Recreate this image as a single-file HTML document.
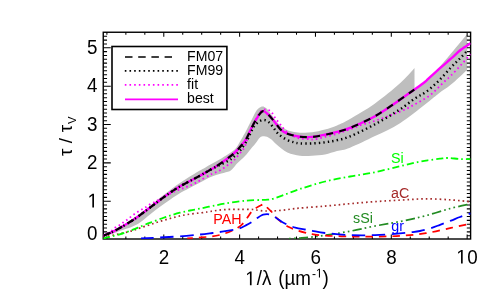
<!DOCTYPE html>
<html><head><meta charset="utf-8"><title>chart</title><style>html,body{margin:0;padding:0;background:#fff}body{width:501px;height:305px;position:relative;overflow:hidden;font-family:"Liberation Sans",sans-serif}</style></head><body>
<svg width="501" height="305" viewBox="0 0 501 305" style="position:absolute;left:0;top:0;will-change:transform">
<defs><clipPath id="c"><rect x="103.25" y="32.25" width="367.35" height="206.75"/></clipPath><clipPath id="cb"><rect x="103.25" y="32.25" width="363.89" height="206.75"/></clipPath></defs>
<path d="M103.25 235.00 C106.21 233.55 115.08 229.70 121.00 226.30 C126.92 222.90 133.97 218.02 138.80 214.60 C143.63 211.18 146.47 208.60 150.00 205.80 C153.53 203.00 156.58 200.48 160.00 197.80 C163.42 195.12 167.00 192.28 170.50 189.70 C174.00 187.12 177.50 184.65 181.00 182.30 C184.50 179.95 188.35 177.57 191.50 175.60 C194.65 173.63 197.57 171.87 199.90 170.50 C202.23 169.13 202.82 168.88 205.50 167.40 C208.18 165.92 212.50 163.62 216.00 161.60 C219.50 159.58 223.33 157.37 226.50 155.30 C229.67 153.23 232.82 151.37 235.00 149.20 C237.18 147.03 238.27 144.42 239.60 142.30 C240.93 140.18 241.93 138.37 243.00 136.50 C244.07 134.63 244.70 133.58 246.00 131.10 C247.30 128.62 249.20 124.78 250.80 121.60 C252.40 118.42 254.23 114.27 255.60 112.00 C256.97 109.73 257.82 108.93 259.00 108.00 C260.18 107.07 261.53 106.40 262.70 106.40 C263.87 106.40 264.78 106.93 266.00 108.00 C267.22 109.07 268.00 110.27 270.00 112.80 C272.00 115.33 275.33 120.42 278.00 123.20 C280.67 125.98 283.33 128.05 286.00 129.50 C288.67 130.95 291.33 131.37 294.00 131.90 C296.67 132.43 299.00 132.63 302.00 132.70 C305.00 132.77 308.17 132.83 312.00 132.30 C315.83 131.77 320.83 130.65 325.00 129.50 C329.17 128.35 332.83 127.15 337.00 125.40 C341.17 123.65 343.67 122.65 350.00 119.00 C356.33 115.35 366.67 109.45 375.00 103.50 C383.33 97.55 393.42 89.22 400.00 83.30 C406.58 77.38 412.08 70.55 414.50 68.00 L414.50 89.40 C416.82 87.62 423.58 83.18 428.40 78.70 C433.22 74.22 439.63 66.70 443.40 62.50 C447.17 58.30 448.10 56.97 451.00 53.50 C453.90 50.03 458.12 44.92 460.80 41.70 C463.48 38.48 465.47 36.15 467.10 34.20 C468.73 32.25 470.02 30.70 470.60 30.00 L470.60 66.00 C470.00 66.65 470.27 66.80 467.00 69.90 C463.73 73.00 455.77 80.63 451.00 84.60 C446.23 88.57 442.73 90.38 438.40 93.70 C434.07 97.02 431.40 99.58 425.00 104.50 C418.60 109.42 408.33 117.93 400.00 123.20 C391.67 128.47 383.33 132.02 375.00 136.10 C366.67 140.18 356.33 145.20 350.00 147.70 C343.67 150.20 341.17 149.97 337.00 151.10 C332.83 152.23 329.17 153.72 325.00 154.50 C320.83 155.28 316.17 155.58 312.00 155.80 C307.83 156.02 304.10 156.33 300.00 155.80 C295.90 155.27 291.35 154.52 287.40 152.60 C283.45 150.68 278.95 146.47 276.30 144.30 C273.65 142.13 273.05 140.85 271.50 139.60 C269.95 138.35 268.33 137.37 267.00 136.80 C265.67 136.23 264.67 136.08 263.50 136.20 C262.33 136.32 261.32 136.32 260.00 137.50 C258.68 138.68 257.27 141.22 255.60 143.30 C253.93 145.38 251.77 147.88 250.00 150.00 C248.23 152.12 247.17 153.75 245.00 156.00 C242.83 158.25 238.67 161.83 237.00 163.50 C235.33 165.17 235.70 165.15 235.00 166.00 C234.30 166.85 233.70 167.73 232.80 168.60 C231.90 169.47 231.53 170.38 229.60 171.20 C227.67 172.02 224.35 172.53 221.20 173.50 C218.05 174.47 214.23 175.50 210.70 177.00 C207.17 178.50 203.20 180.85 200.00 182.50 C196.80 184.15 194.67 185.23 191.50 186.90 C188.33 188.57 184.58 190.37 181.00 192.50 C177.42 194.63 173.50 197.32 170.00 199.70 C166.50 202.08 163.33 204.33 160.00 206.80 C156.67 209.27 153.33 211.88 150.00 214.50 C146.67 217.12 143.08 220.42 140.00 222.50 C136.92 224.58 134.67 225.67 131.50 227.00 C128.33 228.33 124.15 229.37 121.00 230.50 C117.85 231.63 115.56 232.75 112.60 233.80 C109.64 234.85 104.81 236.30 103.25 236.80 Z" fill="#bebebe" stroke="none" clip-path="url(#cb)"/>
<g stroke="#000" stroke-width="1.4" fill="none">
<rect x="103.25" y="32.25" width="367.35" height="206.75"/>
<path d="M106.90 239.00v-2.40M106.90 32.25v2.40M125.86 239.00v-2.40M125.86 32.25v2.40M144.82 239.00v-2.40M144.82 32.25v2.40M163.78 239.00v-4.40M163.78 32.25v4.40M182.74 239.00v-2.40M182.74 32.25v2.40M201.70 239.00v-2.40M201.70 32.25v2.40M220.66 239.00v-2.40M220.66 32.25v2.40M239.62 239.00v-4.40M239.62 32.25v4.40M258.58 239.00v-2.40M258.58 32.25v2.40M277.54 239.00v-2.40M277.54 32.25v2.40M296.50 239.00v-2.40M296.50 32.25v2.40M315.46 239.00v-4.40M315.46 32.25v4.40M334.42 239.00v-2.40M334.42 32.25v2.40M353.38 239.00v-2.40M353.38 32.25v2.40M372.34 239.00v-2.40M372.34 32.25v2.40M391.30 239.00v-4.40M391.30 32.25v4.40M410.26 239.00v-2.40M410.26 32.25v2.40M429.22 239.00v-2.40M429.22 32.25v2.40M448.18 239.00v-2.40M448.18 32.25v2.40M467.14 239.00v-4.40M467.14 32.25v4.40M103.25 235.72h3.80M470.60 235.72h-3.80M103.25 231.88h3.80M470.60 231.88h-3.80M103.25 228.05h3.80M470.60 228.05h-3.80M103.25 224.21h3.80M470.60 224.21h-3.80M103.25 220.38h3.80M470.60 220.38h-3.80M103.25 216.54h3.80M470.60 216.54h-3.80M103.25 212.71h3.80M470.60 212.71h-3.80M103.25 208.87h3.80M470.60 208.87h-3.80M103.25 205.04h3.80M470.60 205.04h-3.80M103.25 201.20h7.50M470.60 201.20h-3.80M103.25 197.37h3.80M470.60 197.37h-3.80M103.25 193.53h3.80M470.60 193.53h-3.80M103.25 189.69h3.80M470.60 189.69h-3.80M103.25 185.86h3.80M470.60 185.86h-3.80M103.25 182.03h3.80M470.60 182.03h-3.80M103.25 178.19h3.80M470.60 178.19h-3.80M103.25 174.36h3.80M470.60 174.36h-3.80M103.25 170.52h3.80M470.60 170.52h-3.80M103.25 166.69h3.80M470.60 166.69h-3.80M103.25 162.85h7.50M470.60 162.85h-3.80M103.25 159.01h3.80M470.60 159.01h-3.80M103.25 155.18h3.80M470.60 155.18h-3.80M103.25 151.35h3.80M470.60 151.35h-3.80M103.25 147.51h3.80M470.60 147.51h-3.80M103.25 143.68h3.80M470.60 143.68h-3.80M103.25 139.84h3.80M470.60 139.84h-3.80M103.25 136.00h3.80M470.60 136.00h-3.80M103.25 132.17h3.80M470.60 132.17h-3.80M103.25 128.34h3.80M470.60 128.34h-3.80M103.25 124.50h7.50M470.60 124.50h-3.80M103.25 120.67h3.80M470.60 120.67h-3.80M103.25 116.83h3.80M470.60 116.83h-3.80M103.25 113.00h3.80M470.60 113.00h-3.80M103.25 109.16h3.80M470.60 109.16h-3.80M103.25 105.33h3.80M470.60 105.33h-3.80M103.25 101.49h3.80M470.60 101.49h-3.80M103.25 97.66h3.80M470.60 97.66h-3.80M103.25 93.82h3.80M470.60 93.82h-3.80M103.25 89.99h3.80M470.60 89.99h-3.80M103.25 86.15h7.50M470.60 86.15h-3.80M103.25 82.32h3.80M470.60 82.32h-3.80M103.25 78.48h3.80M470.60 78.48h-3.80M103.25 74.65h3.80M470.60 74.65h-3.80M103.25 70.81h3.80M470.60 70.81h-3.80M103.25 66.97h3.80M470.60 66.97h-3.80M103.25 63.14h3.80M470.60 63.14h-3.80M103.25 59.31h3.80M470.60 59.31h-3.80M103.25 55.47h3.80M470.60 55.47h-3.80M103.25 51.63h3.80M470.60 51.63h-3.80M103.25 47.80h7.50M470.60 47.80h-3.80M103.25 43.97h3.80M470.60 43.97h-3.80M103.25 40.13h3.80M470.60 40.13h-3.80M103.25 36.30h3.80M470.60 36.30h-3.80" stroke-width="1.05"/>
</g>
<g clip-path="url(#c)" fill="none" stroke-linecap="butt" stroke-linejoin="round">
<path d="M103.25 237.00 C105.21 236.63 111.38 235.53 115.00 234.80 C118.62 234.07 122.00 233.32 125.00 232.60 C128.00 231.88 130.50 231.27 133.00 230.50 C135.50 229.73 137.17 228.97 140.00 228.00 C142.83 227.03 146.67 225.80 150.00 224.70 C153.33 223.60 156.67 222.43 160.00 221.40 C163.33 220.37 166.67 219.42 170.00 218.50 C173.33 217.58 176.67 216.63 180.00 215.90 C183.33 215.17 186.67 214.60 190.00 214.10 C193.33 213.60 197.08 213.25 200.00 212.90 C202.92 212.55 205.50 212.28 207.50 212.00 C209.50 211.72 210.50 211.45 212.00 211.20 C213.50 210.95 215.00 210.72 216.50 210.50 C218.00 210.28 219.50 210.05 221.00 209.90 C222.50 209.75 223.93 209.68 225.50 209.60 C227.07 209.52 227.98 209.45 230.40 209.40 C232.82 209.35 236.15 209.28 240.00 209.30 C243.85 209.32 250.50 209.33 253.50 209.50 C256.50 209.67 256.42 210.07 258.00 210.30 C259.58 210.53 261.42 210.78 263.00 210.90 C264.58 211.02 266.00 211.00 267.50 211.00 C269.00 211.00 270.50 210.95 272.00 210.90 C273.50 210.85 274.93 210.80 276.50 210.70 C278.07 210.60 279.82 210.45 281.40 210.30 C282.98 210.15 284.50 209.98 286.00 209.80 C287.50 209.62 288.90 209.40 290.40 209.20 C291.90 209.00 293.50 208.78 295.00 208.60 C296.50 208.42 294.40 208.52 299.40 208.10 C304.40 207.68 316.57 206.83 325.00 206.10 C333.43 205.37 341.67 204.45 350.00 203.70 C358.33 202.95 366.50 202.20 375.00 201.60 C383.50 201.00 392.50 200.57 401.00 200.10 C409.50 199.63 417.67 198.83 426.00 198.80 C434.33 198.77 443.57 199.40 451.00 199.90 C458.43 200.40 467.33 201.48 470.60 201.80" stroke="#a52a2a" stroke-width="1.7" stroke-dasharray="1.6 3.0"/>
<path d="M103.25 238.50 C103.76 238.37 103.69 238.35 106.30 237.70 C108.91 237.05 115.62 235.50 118.90 234.60 C122.18 233.70 123.55 233.17 126.00 232.30 C128.45 231.43 131.47 230.23 133.60 229.40 C135.73 228.57 136.90 228.08 138.80 227.30 C140.70 226.52 142.97 225.52 145.00 224.70 C147.03 223.88 148.25 223.43 151.00 222.40 C153.75 221.37 158.33 219.63 161.50 218.50 C164.67 217.37 166.92 216.57 170.00 215.60 C173.08 214.63 176.67 213.55 180.00 212.70 C183.33 211.85 186.67 211.18 190.00 210.50 C193.33 209.82 196.28 209.35 200.00 208.60 C203.72 207.85 208.13 206.83 212.30 206.00 C216.47 205.17 220.38 204.38 225.00 203.60 C229.62 202.82 235.83 201.83 240.00 201.30 C244.17 200.77 246.33 200.63 250.00 200.40 C253.67 200.17 259.00 200.02 262.00 199.90 C265.00 199.78 266.25 199.87 268.00 199.70 C269.75 199.53 270.50 199.45 272.50 198.90 C274.50 198.35 275.42 198.05 280.00 196.40 C284.58 194.75 292.50 191.48 300.00 189.00 C307.50 186.52 316.67 183.58 325.00 181.50 C333.33 179.42 341.67 178.05 350.00 176.50 C358.33 174.95 366.67 173.92 375.00 172.20 C383.33 170.48 392.50 167.97 400.00 166.20 C407.50 164.43 415.00 162.63 420.00 161.60 C425.00 160.57 426.67 160.48 430.00 160.00 C433.33 159.52 437.00 159.03 440.00 158.70 C443.00 158.37 444.67 157.95 448.00 158.00 C451.33 158.05 456.23 158.80 460.00 159.00 C463.77 159.20 468.83 159.17 470.60 159.20" stroke="#00ff00" stroke-width="1.8" stroke-dasharray="7.2 3.07 1.6 3.08" stroke-dashoffset="0.32"/>
<path d="M287.50 238.70 C289.58 238.58 296.25 238.25 300.00 238.00 C303.75 237.75 305.83 237.65 310.00 237.20 C314.17 236.75 318.33 236.30 325.00 235.30 C331.67 234.30 341.67 232.75 350.00 231.20 C358.33 229.65 366.50 227.65 375.00 226.00 C383.50 224.35 392.50 223.03 401.00 221.30 C409.50 219.57 417.67 217.77 426.00 215.60 C434.33 213.43 443.57 210.25 451.00 208.30 C458.43 206.35 467.33 204.63 470.60 203.90" stroke="#228b22" stroke-width="1.7" stroke-dasharray="9.4 3.0 1.7 3.2 1.7 3.2 1.7 3.2" stroke-dashoffset="15.70"/>
<path d="M187.30 238.40 C191.47 238.07 206.02 237.23 212.30 236.40 C218.58 235.57 221.68 234.35 225.00 233.40 C228.32 232.45 230.07 231.65 232.20 230.70 C234.33 229.75 236.07 228.85 237.80 227.70 C239.53 226.55 241.00 225.48 242.60 223.80 C244.20 222.12 245.93 219.57 247.40 217.60 C248.87 215.63 249.93 213.62 251.40 212.00 C252.87 210.38 254.60 209.03 256.20 207.90 C257.80 206.77 259.65 205.78 261.00 205.20 C262.35 204.62 263.25 204.00 264.30 204.40 C265.35 204.80 266.02 206.30 267.30 207.60 C268.58 208.90 270.53 210.57 272.00 212.20 C273.47 213.83 274.35 215.60 276.10 217.40 C277.85 219.20 280.37 221.40 282.50 223.00 C284.63 224.60 286.77 225.87 288.90 227.00 C291.03 228.13 292.63 228.87 295.30 229.80 C297.97 230.73 302.12 231.88 304.90 232.60 C307.68 233.32 308.65 233.60 312.00 234.10 C315.35 234.60 318.67 235.20 325.00 235.60 C331.33 236.00 341.67 236.33 350.00 236.50 C358.33 236.67 366.50 236.72 375.00 236.60 C383.50 236.48 392.50 236.37 401.00 235.80 C409.50 235.23 417.67 234.52 426.00 233.20 C434.33 231.88 443.57 229.50 451.00 227.90 C458.43 226.30 467.33 224.32 470.60 223.60" stroke="#ff0000" stroke-width="1.7" stroke-dasharray="7.5 5.95" stroke-dashoffset="1.86"/>
<path d="M141.00 238.40 C144.17 238.25 153.50 237.85 160.00 237.50 C166.50 237.15 173.33 236.80 180.00 236.30 C186.67 235.80 194.62 235.05 200.00 234.50 C205.38 233.95 208.63 233.47 212.30 233.00 C215.97 232.53 218.38 232.23 222.00 231.70 C225.62 231.17 231.10 230.33 234.00 229.80 C236.90 229.27 237.43 229.23 239.40 228.50 C241.37 227.77 243.80 226.45 245.80 225.40 C247.80 224.35 249.53 223.40 251.40 222.20 C253.27 221.00 255.28 219.37 257.00 218.20 C258.72 217.03 260.38 215.85 261.70 215.20 C263.02 214.55 263.70 214.45 264.90 214.30 C266.10 214.15 267.57 214.05 268.90 214.30 C270.23 214.55 271.43 215.02 272.90 215.80 C274.37 216.58 276.10 217.93 277.70 219.00 C279.30 220.07 280.63 221.13 282.50 222.20 C284.37 223.27 286.77 224.50 288.90 225.40 C291.03 226.30 292.63 226.92 295.30 227.60 C297.97 228.28 302.07 228.97 304.90 229.50 C307.73 230.03 308.95 230.22 312.30 230.80 C315.65 231.38 318.72 232.28 325.00 233.00 C331.28 233.72 341.67 234.75 350.00 235.10 C358.33 235.45 366.67 235.38 375.00 235.10 C383.33 234.82 393.83 233.88 400.00 233.40 C406.17 232.92 408.67 232.60 412.00 232.20 C415.33 231.80 417.00 231.63 420.00 231.00 C423.00 230.37 426.67 229.43 430.00 228.40 C433.33 227.37 436.50 226.10 440.00 224.80 C443.50 223.50 447.67 221.90 451.00 220.60 C454.33 219.30 456.73 218.20 460.00 217.00 C463.27 215.80 468.83 214.00 470.60 213.40" stroke="#0000ff" stroke-width="1.8" stroke-dasharray="13.4 6.6" stroke-dashoffset="0.8"/>
<path d="M103.25 235.60 C104.04 235.20 106.54 234.05 108.00 233.20 C109.46 232.35 110.72 231.48 112.00 230.50 C113.28 229.52 114.47 228.18 115.70 227.30 C116.93 226.42 118.17 225.98 119.40 225.20 C120.63 224.42 121.87 223.47 123.10 222.60 C124.33 221.73 125.58 220.92 126.80 220.00 C128.02 219.08 129.17 218.07 130.40 217.10 C131.63 216.13 132.95 215.10 134.20 214.20 C135.45 213.30 136.58 212.52 137.90 211.70 C139.22 210.88 140.80 210.05 142.10 209.30 C143.40 208.55 144.40 208.02 145.70 207.20 C147.00 206.38 148.50 205.22 149.90 204.40 C151.30 203.58 152.78 202.98 154.10 202.30 C155.42 201.62 155.78 201.43 157.80 200.30 C159.82 199.17 163.38 196.97 166.20 195.50 C169.02 194.03 172.50 192.48 174.70 191.50 C176.90 190.52 177.92 190.17 179.40 189.60 C180.88 189.03 182.20 188.63 183.60 188.10 C185.00 187.57 186.40 186.97 187.80 186.40 C189.20 185.83 190.60 185.33 192.00 184.70 C193.40 184.07 194.88 183.30 196.20 182.60 C197.52 181.90 197.73 181.70 199.90 180.50 C202.07 179.30 207.05 176.57 209.20 175.40 C211.35 174.23 211.50 174.10 212.80 173.50 C214.10 172.90 215.63 172.43 217.00 171.80 C218.37 171.17 219.68 170.47 221.00 169.70 C222.32 168.93 223.63 168.08 224.90 167.20 C226.17 166.32 227.37 165.30 228.60 164.40 C229.83 163.50 231.15 162.77 232.30 161.80 C233.45 160.83 234.17 160.10 235.50 158.60 C236.83 157.10 238.72 154.90 240.30 152.80 C241.88 150.70 243.38 149.63 245.00 146.00 C246.62 142.37 248.17 135.53 250.00 131.00 C251.83 126.47 254.17 122.13 256.00 118.80 C257.83 115.47 259.33 112.57 261.00 111.00 C262.67 109.43 264.38 109.37 266.00 109.40 C267.62 109.43 269.52 110.37 270.70 111.20 C271.88 112.03 272.30 113.20 273.10 114.40 C273.90 115.60 274.57 117.07 275.50 118.40 C276.43 119.73 277.63 121.07 278.70 122.40 C279.77 123.73 280.83 125.08 281.90 126.40 C282.97 127.72 283.77 128.98 285.10 130.30 C286.43 131.62 288.17 133.15 289.90 134.30 C291.63 135.45 293.77 136.50 295.50 137.20 C297.23 137.90 297.95 138.17 300.30 138.50 C302.65 138.83 307.25 139.03 309.60 139.20 C311.95 139.37 312.00 139.85 314.40 139.50 C316.80 139.15 320.23 138.05 324.00 137.10 C327.77 136.15 332.67 135.10 337.00 133.80 C341.33 132.50 345.77 130.83 350.00 129.30 C354.23 127.77 358.73 125.85 362.40 124.60 C366.07 123.35 368.87 122.78 372.00 121.80 C375.13 120.82 378.23 119.73 381.20 118.70 C384.17 117.67 386.95 116.67 389.80 115.60 C392.65 114.53 395.47 113.47 398.30 112.30 C401.13 111.13 404.02 109.95 406.80 108.60 C409.58 107.25 412.33 105.65 415.00 104.20 C417.67 102.75 420.18 101.48 422.80 99.90 C425.42 98.32 428.23 96.63 430.70 94.70 C433.17 92.77 435.35 90.45 437.60 88.30 C439.85 86.15 441.97 83.92 444.20 81.80 C446.43 79.68 448.20 78.40 451.00 75.60 C453.80 72.80 457.73 68.60 461.00 65.00 C464.27 61.40 469.00 55.83 470.60 54.00" stroke="#ff00ff" stroke-width="1.8" stroke-dasharray="1.6 3.0"/>
<path d="M103.25 235.60 C104.81 234.97 109.64 233.18 112.60 231.80 C115.56 230.42 117.85 229.10 121.00 227.30 C124.15 225.50 128.53 222.88 131.50 221.00 C134.47 219.12 135.72 218.23 138.80 216.00 C141.88 213.77 146.47 210.27 150.00 207.60 C153.53 204.93 156.58 202.53 160.00 200.00 C163.42 197.47 167.00 194.77 170.50 192.40 C174.00 190.03 177.50 187.83 181.00 185.80 C184.50 183.77 188.35 181.88 191.50 180.20 C194.65 178.52 197.57 176.97 199.90 175.70 C202.23 174.43 202.82 174.15 205.50 172.60 C208.18 171.05 212.50 168.63 216.00 166.40 C219.50 164.17 223.35 161.52 226.50 159.20 C229.65 156.88 232.33 154.90 234.90 152.50 C237.47 150.10 239.93 147.22 241.90 144.80 C243.87 142.38 245.35 140.27 246.70 138.00 C248.05 135.73 248.42 134.32 250.00 131.20 C251.58 128.08 254.10 122.63 256.20 119.30 C258.30 115.97 260.52 111.92 262.60 111.20 C264.68 110.48 266.63 113.13 268.70 115.00 C270.77 116.87 272.95 119.92 275.00 122.40 C277.05 124.88 278.93 128.02 281.00 129.90 C283.07 131.78 284.23 132.55 287.40 133.70 C290.57 134.85 295.85 136.27 300.00 136.80 C304.15 137.33 308.13 137.25 312.30 136.90 C316.47 136.55 320.83 135.53 325.00 134.70 C329.17 133.87 333.13 133.03 337.30 131.90 C341.47 130.77 343.72 130.52 350.00 127.90 C356.28 125.28 366.67 120.90 375.00 116.20 C383.33 111.50 393.45 104.13 400.00 99.70 C406.55 95.27 410.17 92.55 414.30 89.60 C418.43 86.65 422.45 83.82 424.80 82.00 C427.15 80.18 425.72 81.13 428.40 78.70 C431.08 76.27 437.15 70.73 440.90 67.40 C444.65 64.07 447.58 61.63 450.90 58.70 C454.22 55.77 457.52 52.38 460.80 49.80 C464.08 47.22 468.97 44.30 470.60 43.20" stroke="#ff00ff" stroke-width="2.4"/>
<path d="M103.25 235.60 C104.81 234.97 109.64 233.18 112.60 231.80 C115.56 230.42 117.85 229.10 121.00 227.30 C124.15 225.50 128.53 222.88 131.50 221.00 C134.47 219.12 135.72 218.23 138.80 216.00 C141.88 213.77 146.47 210.27 150.00 207.60 C153.53 204.93 156.58 202.53 160.00 200.00 C163.42 197.47 167.00 194.77 170.50 192.40 C174.00 190.03 177.50 187.83 181.00 185.80 C184.50 183.77 188.35 181.88 191.50 180.20 C194.65 178.52 197.57 176.97 199.90 175.70 C202.23 174.43 203.32 173.83 205.50 172.60 C207.68 171.37 210.38 169.67 213.00 168.30 C215.62 166.93 218.60 165.67 221.20 164.40 C223.80 163.13 226.75 161.75 228.60 160.70 C230.45 159.65 230.90 159.25 232.30 158.10 C233.70 156.95 235.40 155.45 237.00 153.80 C238.60 152.15 240.13 150.62 241.90 148.20 C243.67 145.78 246.12 141.92 247.60 139.30 C249.08 136.68 249.73 134.65 250.80 132.50 C251.87 130.35 252.63 128.23 254.00 126.40 C255.37 124.57 257.28 122.57 259.00 121.50 C260.72 120.43 262.62 119.85 264.30 120.00 C265.98 120.15 267.63 121.20 269.10 122.40 C270.57 123.60 271.63 125.35 273.10 127.20 C274.57 129.05 275.77 131.48 277.90 133.50 C280.03 135.52 283.23 137.83 285.90 139.30 C288.57 140.77 291.55 141.62 293.90 142.30 C296.25 142.98 296.98 143.22 300.00 143.40 C303.02 143.58 307.83 143.58 312.00 143.40 C316.17 143.22 320.83 142.83 325.00 142.30 C329.17 141.77 332.83 141.18 337.00 140.20 C341.17 139.22 343.67 139.05 350.00 136.40 C356.33 133.75 366.67 128.80 375.00 124.30 C383.33 119.80 393.37 113.70 400.00 109.40 C406.63 105.10 410.47 101.42 414.80 98.50 C419.13 95.58 422.07 94.80 426.00 91.90 C429.93 89.00 434.23 85.18 438.40 81.10 C442.57 77.02 447.23 71.35 451.00 67.40 C454.77 63.45 457.73 60.80 461.00 57.40 C464.27 54.00 469.00 48.73 470.60 47.00" stroke="#000" stroke-width="2.4" stroke-dasharray="1.4 3.1" clip-path="url(#cb)"/>
<path d="M103.25 235.60 C104.81 234.97 109.64 233.18 112.60 231.80 C115.56 230.42 117.85 229.10 121.00 227.30 C124.15 225.50 128.53 222.88 131.50 221.00 C134.47 219.12 135.72 218.23 138.80 216.00 C141.88 213.77 146.47 210.27 150.00 207.60 C153.53 204.93 156.58 202.53 160.00 200.00 C163.42 197.47 167.00 194.77 170.50 192.40 C174.00 190.03 177.50 187.83 181.00 185.80 C184.50 183.77 188.35 181.88 191.50 180.20 C194.65 178.52 197.57 176.97 199.90 175.70 C202.23 174.43 202.82 174.15 205.50 172.60 C208.18 171.05 212.50 168.63 216.00 166.40 C219.50 164.17 223.35 161.52 226.50 159.20 C229.65 156.88 232.33 154.90 234.90 152.50 C237.47 150.10 239.93 147.22 241.90 144.80 C243.87 142.38 245.35 140.27 246.70 138.00 C248.05 135.73 248.42 134.32 250.00 131.20 C251.58 128.08 254.10 122.63 256.20 119.30 C258.30 115.97 260.52 111.92 262.60 111.20 C264.68 110.48 266.63 113.13 268.70 115.00 C270.77 116.87 272.95 119.92 275.00 122.40 C277.05 124.88 278.93 128.02 281.00 129.90 C283.07 131.78 284.23 132.55 287.40 133.70 C290.57 134.85 295.85 136.27 300.00 136.80 C304.15 137.33 308.13 137.25 312.30 136.90 C316.47 136.55 320.83 135.53 325.00 134.70 C329.17 133.87 333.13 133.03 337.30 131.90 C341.47 130.77 343.72 130.52 350.00 127.90 C356.28 125.28 366.67 120.90 375.00 116.20 C383.33 111.50 393.45 104.13 400.00 99.70 C406.55 95.27 411.92 91.28 414.30 89.60" stroke="#000" stroke-width="2.15" stroke-dasharray="7 6.3" stroke-dashoffset="12.56"/>
</g>
<rect x="112.00" y="46.50" width="114.90" height="63.00" fill="#fff" stroke="#000" stroke-width="1.6"/>
<g fill="none">
<path d="M125 57H172" stroke="#000" stroke-width="1.3" stroke-dasharray="7.5 5.7"/>
<path d="M124.8 70.8H178.2" stroke="#000" stroke-width="1.7" stroke-dasharray="1.6 3.08"/>
<path d="M124.8 84.9H178.2" stroke="#ff00ff" stroke-width="1.7" stroke-dasharray="1.6 3.08"/>
<path d="M125 99.4H178" stroke="#ff00ff" stroke-width="1.7"/>
</g>
<g font-family="Liberation Sans, sans-serif">
<text transform="translate(187.10 60.70) scale(1 1.090)" font-size="14.1" fill="#000" text-anchor="start">FM07</text>
<text transform="translate(187.10 74.60) scale(1 1.090)" font-size="14.1" fill="#000" text-anchor="start">FM99</text>
<text transform="translate(187.10 88.80) scale(1 1.090)" font-size="14.1" fill="#000" text-anchor="start">fit</text>
<text transform="translate(187.10 102.60) scale(1 1.090)" font-size="14.1" fill="#000" text-anchor="start">best</text>
<text transform="translate(213.30 223.70) scale(1 1.050)" font-size="14.3" fill="#ff0000" text-anchor="start">PAH</text>
<text transform="translate(391.00 162.80) scale(1 1.050)" font-size="14.3" fill="#00ff00" text-anchor="start">Si</text>
<text transform="translate(391.00 197.60) scale(1 1.050)" font-size="14.3" fill="#a52a2a" text-anchor="start">aC</text>
<text transform="translate(353.00 222.70) scale(1 1.050)" font-size="14.3" fill="#228b22" text-anchor="start">sSi</text>
<text transform="translate(391.20 231.40) scale(1 1.050)" font-size="14.3" fill="#0000ff" text-anchor="start">gr</text>
<text transform="translate(163.98 263.60) scale(1 1.060)" font-size="18.8" fill="#000" text-anchor="middle">2</text>
<text transform="translate(239.82 263.60) scale(1 1.060)" font-size="18.8" fill="#000" text-anchor="middle">4</text>
<text transform="translate(315.66 263.60) scale(1 1.060)" font-size="18.8" fill="#000" text-anchor="middle">6</text>
<text transform="translate(391.50 263.60) scale(1 1.060)" font-size="18.8" fill="#000" text-anchor="middle">8</text>
<path transform="translate(456.30 263.60) scale(0.00918 -0.00973)" fill="#000" d="M515 0V1237L197 1010V1180L530 1409H696V0Z"/>
<text transform="translate(467.20 263.60) scale(1 1.060)" font-size="18.8" fill="#000" text-anchor="start">0</text>
<path transform="translate(87.60 207.50) scale(0.00918 -0.00973)" fill="#000" d="M515 0V1237L197 1010V1180L530 1409H696V0Z"/>
<text transform="translate(97.50 169.15) scale(1 1.060)" font-size="18.8" fill="#000" text-anchor="end">2</text>
<text transform="translate(97.50 130.80) scale(1 1.060)" font-size="18.8" fill="#000" text-anchor="end">3</text>
<text transform="translate(97.50 92.45) scale(1 1.060)" font-size="18.8" fill="#000" text-anchor="end">4</text>
<text transform="translate(97.50 54.10) scale(1 1.060)" font-size="18.8" fill="#000" text-anchor="end">5</text>
<text transform="translate(97.50 239.70) scale(1 1.060)" font-size="18.8" fill="#000" text-anchor="end">0</text>
<path transform="translate(245.20 285.20) scale(0.00918 -0.00973)" fill="#000" d="M515 0V1237L197 1010V1180L530 1409H696V0Z"/>
<text transform="translate(256.84 285.20) scale(1 1.060)" font-size="18.8" fill="#000" text-anchor="start">/λ<tspan dx="1.6"> (</tspan>µm<tspan font-size="12" dy="-7.2" dx="0.9">-</tspan><tspan dy="7.2" dx="6.69">)</tspan></text>
<path transform="translate(315.90 277.55) scale(0.00586 -0.00621)" fill="#000" d="M515 0V1237L197 1010V1180L530 1409H696V0Z"/>
<text transform="translate(71.70 152.25) rotate(-90)" font-size="18.8" text-anchor="middle">τ</text>
<text transform="translate(71.70 140.70) rotate(-90)" font-size="18.8" text-anchor="middle">/</text>
<text transform="translate(71.70 128.45) rotate(-90)" font-size="18.8" text-anchor="middle">τ</text>
<text transform="translate(76.00 120.25) rotate(-90)" font-size="11.3" text-anchor="middle">V</text>
</g>
</svg>
</body></html>
